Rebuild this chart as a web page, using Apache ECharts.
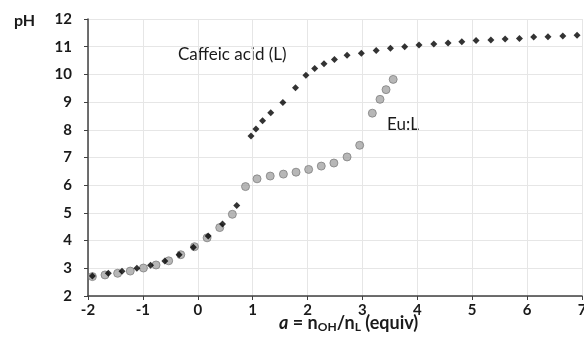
<!DOCTYPE html>
<html>
<head>
<meta charset="utf-8">
<script src="https://cdn.jsdelivr.net/npm/echarts@6/dist/echarts.min.js"></script>
<style>
  html, body { margin: 0; padding: 0; background: #fff; }
  #main { width: 584px; height: 349px; }
</style>
</head>
<body>
<div id="main"></div>
<script>
// caffeic acid alone (black diamonds)
var ligandA = [-1.92, -1.63, -1.38, -1.11, -0.86, -0.60, -0.34, -0.08, 0.19, 0.45, 0.71,
  0.97, 1.06, 1.18, 1.33, 1.55, 1.78, 1.97, 2.13, 2.30, 2.49, 2.72, 2.98, 3.25, 3.51,
  3.77, 4.03, 4.30, 4.56, 4.81, 5.07, 5.34, 5.60, 5.86, 6.12, 6.38, 6.65, 6.91];
var ligandPH = [2.72, 2.82, 2.89, 3.00, 3.11, 3.26, 3.49, 3.76, 4.17, 4.60, 5.27,
  7.78, 8.03, 8.33, 8.62, 8.99, 9.52, 9.97, 10.21, 10.38, 10.54, 10.69, 10.76, 10.86, 10.94,
  11.00, 11.06, 11.10, 11.13, 11.18, 11.22, 11.24, 11.28, 11.30, 11.35, 11.36, 11.39, 11.41];

// Eu:L (grey circles)
var euA = [-1.92, -1.69, -1.46, -1.23, -0.99, -0.76, -0.53, -0.31, -0.06, 0.17, 0.40, 0.63,
  0.87, 1.08, 1.32, 1.56, 1.79, 2.02, 2.25, 2.48, 2.72, 2.95, 3.18, 3.32, 3.43, 3.56];
var euPH = [2.70, 2.76, 2.82, 2.90, 3.01, 3.12, 3.27, 3.49, 3.78, 4.10, 4.47, 4.95,
  5.95, 6.23, 6.33, 6.40, 6.47, 6.57, 6.69, 6.80, 7.02, 7.44, 8.60, 9.10, 9.45, 9.82];

var xTicks = [-2, -1, 0, 1, 2, 3, 4, 5, 6, 7];
var yTicks = [2, 3, 4, 5, 6, 7, 8, 9, 10, 11, 12];

function pairs(xs, ys) {
  var out = [];
  for (var i = 0; i < xs.length; i++) out.push([xs[i], ys[i]]);
  return out;
}

var font = 'Lato, "Open Sans", sans-serif';
var chart = echarts.init(document.getElementById('main'));

chart.setOption({
  animation: false,
  textStyle: { fontFamily: font },
  grid: { left: 88, right: 2, top: 19, bottom: 53, containLabel: false, outerBoundsMode: 'none' },
  xAxis: {
    type: 'value',
    min: xTicks[0], max: xTicks[xTicks.length - 1], interval: 1,
    axisLine: { onZero: false, lineStyle: { color: '#404040', width: 1.5 } },
    axisTick: { show: true, length: 4, lineStyle: { color: '#404040' } },
    axisLabel: { color: '#1a1a1a', fontWeight: 'bold', fontSize: 15, margin: 7, fontFamily: font },
    splitLine: { show: true, lineStyle: { color: '#e6e6e6', width: 1 } }
  },
  yAxis: {
    type: 'value',
    min: yTicks[0], max: yTicks[yTicks.length - 1], interval: 1,
    axisLine: { show: true, onZero: false, lineStyle: { color: '#404040', width: 1.5 } },
    axisTick: { show: true, length: 4, lineStyle: { color: '#404040' } },
    axisLabel: { color: '#1a1a1a', fontWeight: 'bold', fontSize: 15, margin: 16, fontFamily: font },
    splitLine: { show: true, lineStyle: { color: '#e6e6e6', width: 1 } }
  },
  graphic: [
    { type: 'text', left: 14, top: 13, style: { text: 'pH', fontSize: 16, fontWeight: 'bold', fill: '#1a1a1a', fontFamily: font } },
    { type: 'text', left: 178, top: 46, style: { text: 'Caffeic acid (L)', fontSize: 17, fill: '#1a1a1a', fontFamily: font } },
    { type: 'text', left: 387, top: 116, style: { text: 'Eu:L', fontSize: 17, fill: '#1a1a1a', fontFamily: font } },
    {
      type: 'text', left: 279, top: 314,
      style: {
        text: '{i|a} = n{s|OH}/n{s|L} (equiv)',
        fontSize: 18, fontWeight: 'bold', fill: '#1a1a1a', fontFamily: font,
        rich: {
          i: { fontStyle: 'italic', fontWeight: 'bold', fontSize: 18, fill: '#1a1a1a', fontFamily: font },
          s: { fontSize: 12, fontWeight: 'bold', fill: '#1a1a1a', verticalAlign: 'bottom', padding: [9, 0, 0, 0], fontFamily: font }
        }
      }
    }
  ],
  series: [
    {
      name: 'Eu:L', type: 'scatter', symbol: 'circle', symbolSize: 8, z: 2,
      itemStyle: { color: '#a5a5a5', borderColor: '#7f7f7f', borderWidth: 1 },
      data: pairs(euA, euPH)
    },
    {
      name: 'Caffeic acid (L)', type: 'scatter', symbol: 'diamond', symbolSize: 7, z: 3,
      itemStyle: { color: '#000' },
      data: pairs(ligandA, ligandPH)
    }
  ]
});
</script>
</body>
</html>
